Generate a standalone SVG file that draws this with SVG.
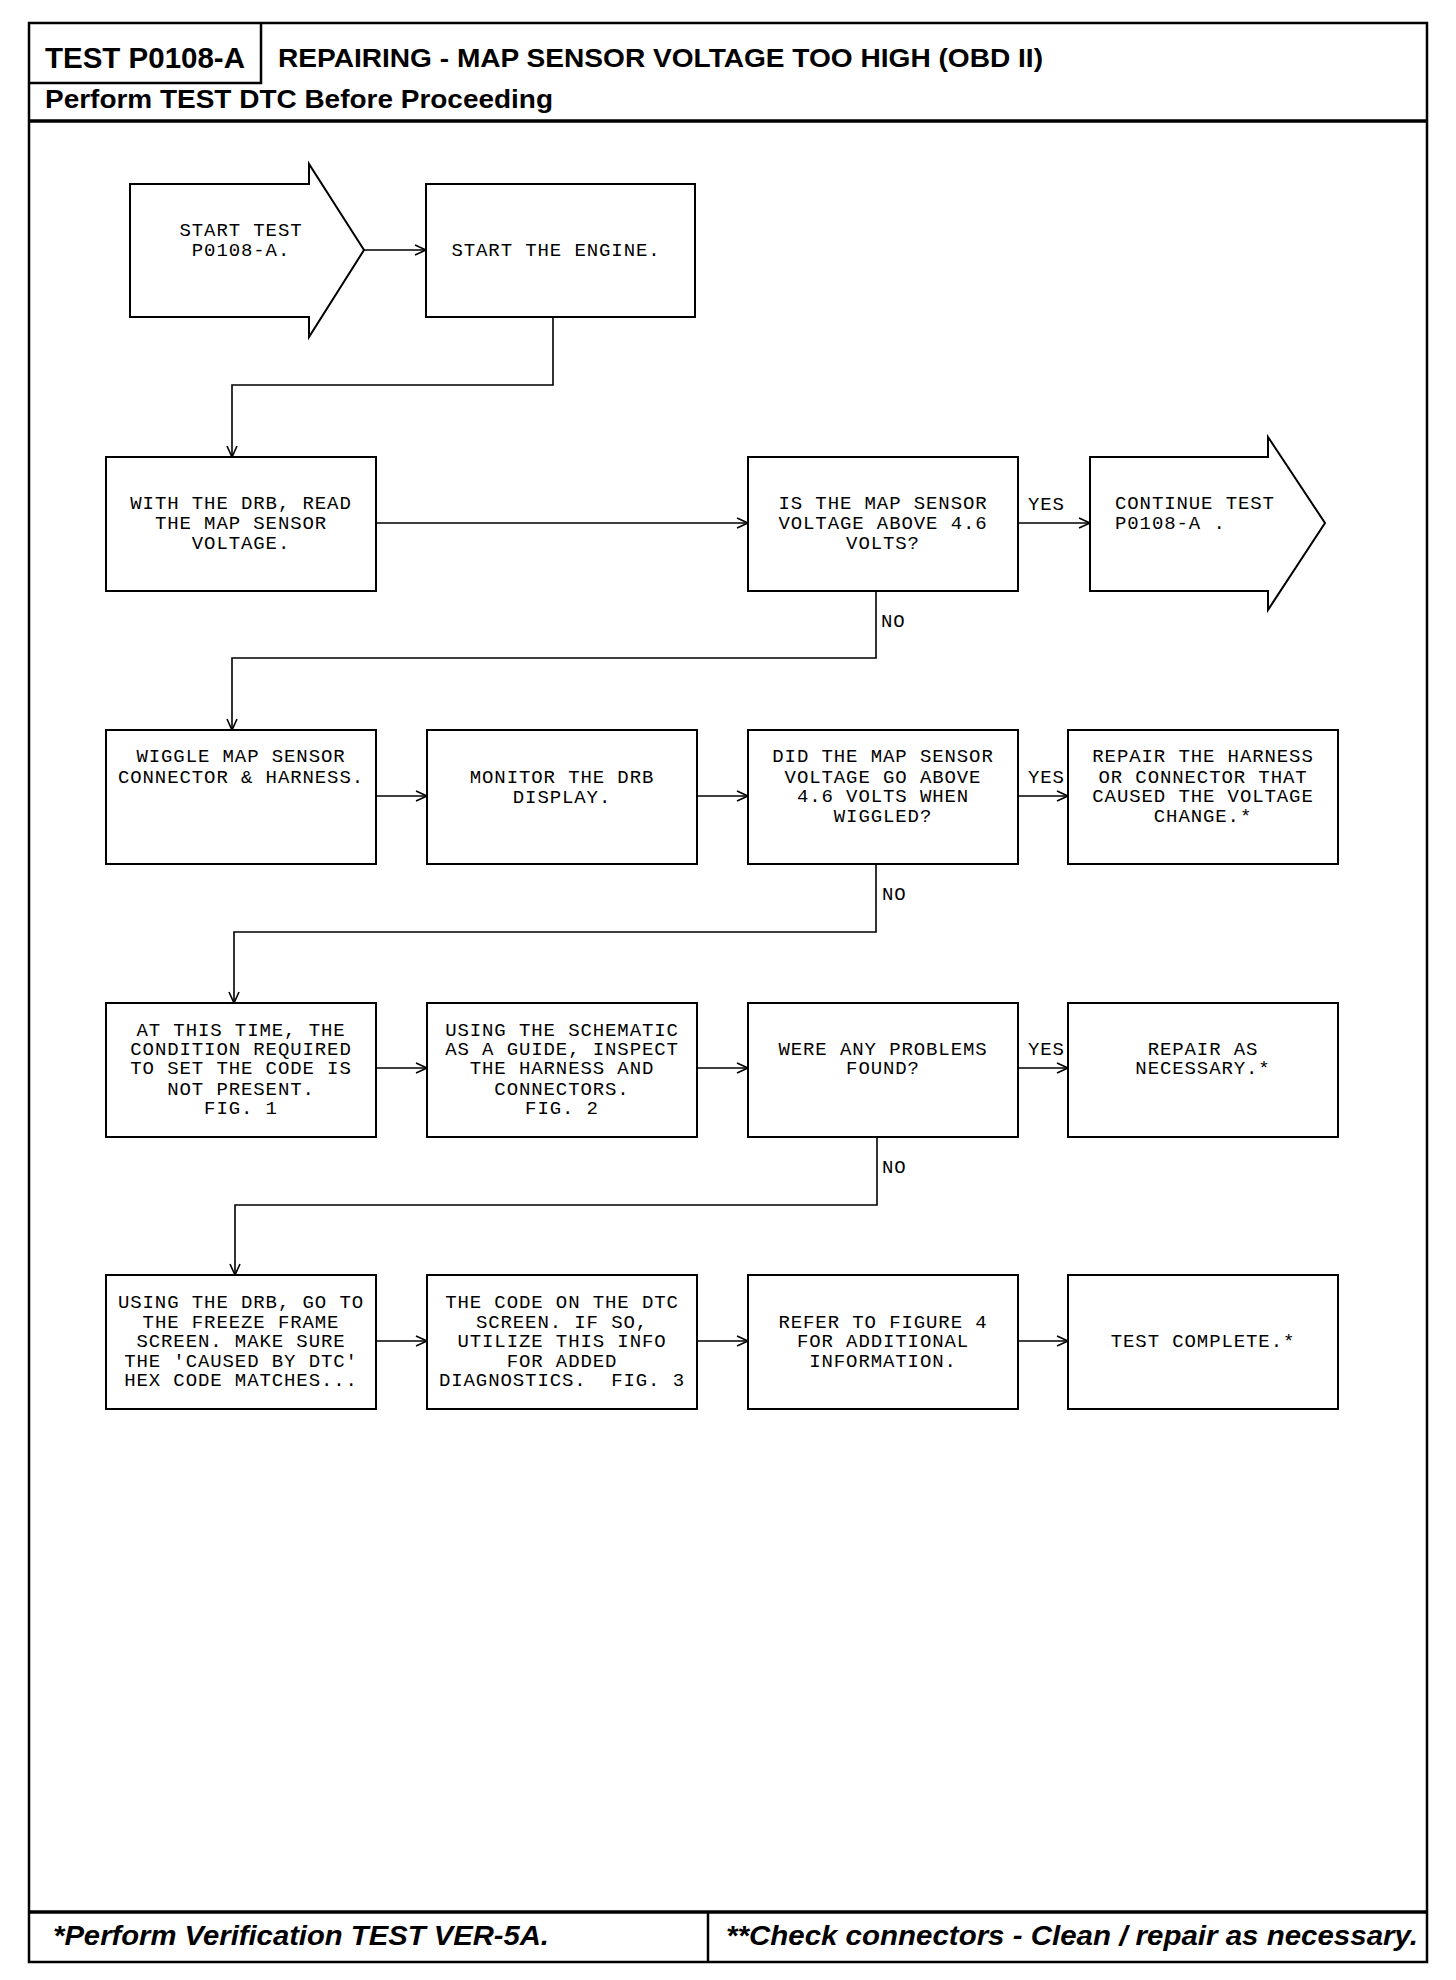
<svg xmlns="http://www.w3.org/2000/svg" width="1456" height="1980" viewBox="0 0 1456 1980">
<style>
.frame{fill:none;stroke:#000;stroke-width:2.5}
.box{fill:#fff;stroke:#000;stroke-width:2}
.con{fill:none;stroke:#000;stroke-width:1.6}
.t{font-family:"Liberation Mono","DejaVu Sans Mono",monospace;font-size:19px;letter-spacing:0.9px;fill:#000;text-anchor:middle;white-space:pre}
.tl{text-anchor:start}
.lbl{font-family:"Liberation Mono","DejaVu Sans Mono",monospace;font-size:19px;letter-spacing:0.9px;fill:#000}
.hb{font-family:"Liberation Sans Narrow","Liberation Sans",Arial,sans-serif;font-weight:bold;fill:#000}
.fi{font-family:"Liberation Sans Narrow","Liberation Sans",Arial,sans-serif;font-weight:bold;font-style:italic;fill:#000}
</style>
<defs>
<marker id="ah" markerUnits="userSpaceOnUse" markerWidth="14" markerHeight="14" refX="12" refY="6" orient="auto">
<path d="M1,1 L12,6 L1,11" fill="none" stroke="#000" stroke-width="1.6"/>
</marker>
</defs>
<rect width="1456" height="1980" fill="#fff"/>
<g id="page">
<rect class="frame" x="29" y="23" width="1398" height="1939"/>
<path class="frame" d="M29,83 H261 V23"/>
<path d="M29,121 H1427" stroke="#000" stroke-width="3.5"/>
<path d="M29,1912 H1427" stroke="#000" stroke-width="3.5"/>
<path class="frame" d="M708,1912 V1962"/>
<text class="hb" x="45" y="68" font-size="30" textLength="200" lengthAdjust="spacingAndGlyphs">TEST P0108-A</text>
<text class="hb" x="278" y="67" font-size="26" textLength="765" lengthAdjust="spacingAndGlyphs">REPAIRING - MAP SENSOR VOLTAGE TOO HIGH (OBD II)</text>
<text class="hb" x="45" y="108" font-size="25" textLength="508" lengthAdjust="spacingAndGlyphs">Perform TEST DTC Before Proceeding</text>
<text class="fi" x="53" y="1945" font-size="28" textLength="496" lengthAdjust="spacingAndGlyphs">*Perform Verification TEST VER-5A.</text>
<text class="fi" x="726" y="1945" font-size="28" textLength="692" lengthAdjust="spacingAndGlyphs">**Check connectors - Clean / repair as necessary.</text>
</g>
<g id="connectors">
<path class="con" d="M364,250 H426" marker-end="url(#ah)"/>
<path class="con" d="M553,317 V385 H232 V457" marker-end="url(#ah)"/>
<path class="con" d="M376,523 H748" marker-end="url(#ah)"/>
<path class="con" d="M1018,523 H1090" marker-end="url(#ah)"/>
<path class="con" d="M876,591 V658 H232 V730" marker-end="url(#ah)"/>
<path class="con" d="M376,796 H427" marker-end="url(#ah)"/>
<path class="con" d="M697,796 H748" marker-end="url(#ah)"/>
<path class="con" d="M1018,796 H1068" marker-end="url(#ah)"/>
<path class="con" d="M876,864 V932 H234 V1003" marker-end="url(#ah)"/>
<path class="con" d="M376,1068 H427" marker-end="url(#ah)"/>
<path class="con" d="M697,1068 H748" marker-end="url(#ah)"/>
<path class="con" d="M1018,1068 H1068" marker-end="url(#ah)"/>
<path class="con" d="M877,1137 V1205 H235 V1275" marker-end="url(#ah)"/>
<path class="con" d="M376,1341 H427" marker-end="url(#ah)"/>
<path class="con" d="M697,1341 H748" marker-end="url(#ah)"/>
<path class="con" d="M1018,1341 H1068" marker-end="url(#ah)"/>
<text class="lbl" x="1028" y="510">YES</text>
<text class="lbl" x="881" y="627">NO</text>
<text class="lbl" x="1028" y="783">YES</text>
<text class="lbl" x="882" y="900">NO</text>
<text class="lbl" x="1028" y="1055">YES</text>
<text class="lbl" x="882" y="1173">NO</text>
</g>
<g id="start">
<polygon class="box" points="130,184 309,184 309,164 364,250 309,337 309,317 130,317"/>
<text class="t" x="241" y="236">START TEST</text>
<text class="t" x="241" y="256">P0108-A.</text>
</g>
<g id="engine">
<rect class="box" x="426" y="184" width="269" height="133"/>
<text class="t" x="556" y="256">START THE ENGINE.</text>
</g>
<g id="read">
<rect class="box" x="106" y="457" width="270" height="134"/>
<text class="t" x="241" y="509">WITH THE DRB, READ</text>
<text class="t" x="241" y="529">THE MAP SENSOR</text>
<text class="t" x="241" y="549">VOLTAGE.</text>
</g>
<g id="q1">
<rect class="box" x="748" y="457" width="270" height="134"/>
<text class="t" x="883" y="509">IS THE MAP SENSOR</text>
<text class="t" x="883" y="529">VOLTAGE ABOVE 4.6</text>
<text class="t" x="883" y="549">VOLTS?</text>
</g>
<g id="continue">
<polygon class="box" points="1090,457 1268,457 1268,437 1325,523 1268,610 1268,591 1090,591"/>
<text class="t tl" x="1115" y="509">CONTINUE TEST</text>
<text class="t tl" x="1115" y="529">P0108-A .</text>
</g>
<g id="wiggle">
<rect class="box" x="106" y="730" width="270" height="134"/>
<text class="t" x="241" y="762">WIGGLE MAP SENSOR</text>
<text class="t" x="241" y="783">CONNECTOR &amp; HARNESS.</text>
</g>
<g id="monitor">
<rect class="box" x="427" y="730" width="270" height="134"/>
<text class="t" x="562" y="783">MONITOR THE DRB</text>
<text class="t" x="562" y="803">DISPLAY.</text>
</g>
<g id="q2">
<rect class="box" x="748" y="730" width="270" height="134"/>
<text class="t" x="883" y="762">DID THE MAP SENSOR</text>
<text class="t" x="883" y="783">VOLTAGE GO ABOVE</text>
<text class="t" x="883" y="802">4.6 VOLTS WHEN</text>
<text class="t" x="883" y="822">WIGGLED?</text>
</g>
<g id="repair1">
<rect class="box" x="1068" y="730" width="270" height="134"/>
<text class="t" x="1203" y="762">REPAIR THE HARNESS</text>
<text class="t" x="1203" y="783">OR CONNECTOR THAT</text>
<text class="t" x="1203" y="802">CAUSED THE VOLTAGE</text>
<text class="t" x="1203" y="822">CHANGE.*</text>
</g>
<g id="condition">
<rect class="box" x="106" y="1003" width="270" height="134"/>
<text class="t" x="241" y="1036">AT THIS TIME, THE</text>
<text class="t" x="241" y="1055">CONDITION REQUIRED</text>
<text class="t" x="241" y="1074">TO SET THE CODE IS</text>
<text class="t" x="241" y="1095">NOT PRESENT.</text>
<text class="t" x="241" y="1114">FIG. 1</text>
</g>
<g id="schematic">
<rect class="box" x="427" y="1003" width="270" height="134"/>
<text class="t" x="562" y="1036">USING THE SCHEMATIC</text>
<text class="t" x="562" y="1055">AS A GUIDE, INSPECT</text>
<text class="t" x="562" y="1074">THE HARNESS AND</text>
<text class="t" x="562" y="1095">CONNECTORS.</text>
<text class="t" x="562" y="1114">FIG. 2</text>
</g>
<g id="q3">
<rect class="box" x="748" y="1003" width="270" height="134"/>
<text class="t" x="883" y="1055">WERE ANY PROBLEMS</text>
<text class="t" x="883" y="1074">FOUND?</text>
</g>
<g id="repair2">
<rect class="box" x="1068" y="1003" width="270" height="134"/>
<text class="t" x="1203" y="1055">REPAIR AS</text>
<text class="t" x="1203" y="1074">NECESSARY.*</text>
</g>
<g id="freeze">
<rect class="box" x="106" y="1275" width="270" height="134"/>
<text class="t" x="241" y="1308">USING THE DRB, GO TO</text>
<text class="t" x="241" y="1328">THE FREEZE FRAME</text>
<text class="t" x="241" y="1347">SCREEN. MAKE SURE</text>
<text class="t" x="241" y="1367">THE 'CAUSED BY DTC'</text>
<text class="t" x="241" y="1386">HEX CODE MATCHES...</text>
</g>
<g id="dtc">
<rect class="box" x="427" y="1275" width="270" height="134"/>
<text class="t" x="562" y="1308">THE CODE ON THE DTC</text>
<text class="t" x="562" y="1328">SCREEN. IF SO,</text>
<text class="t" x="562" y="1347">UTILIZE THIS INFO</text>
<text class="t" x="562" y="1367">FOR ADDED</text>
<text class="t" x="562" y="1386">DIAGNOSTICS.  FIG. 3</text>
</g>
<g id="fig4">
<rect class="box" x="748" y="1275" width="270" height="134"/>
<text class="t" x="883" y="1328">REFER TO FIGURE 4</text>
<text class="t" x="883" y="1347">FOR ADDITIONAL</text>
<text class="t" x="883" y="1367">INFORMATION.</text>
</g>
<g id="complete">
<rect class="box" x="1068" y="1275" width="270" height="134"/>
<text class="t" x="1203" y="1347">TEST COMPLETE.*</text>
</g>
</svg>
